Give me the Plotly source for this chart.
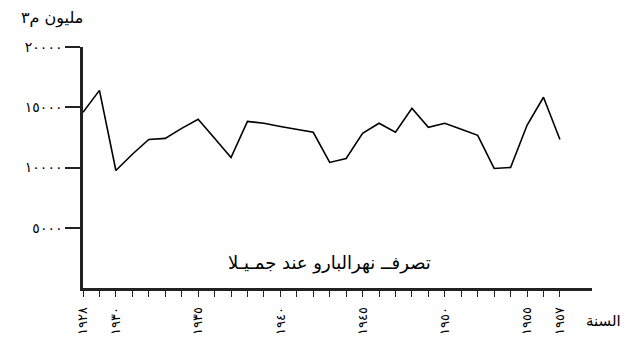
import plotly.graph_objects as go

years = list(range(1928, 1958))
discharge = [14580, 16400, 9750, 11100, 12330, 12420, 13250, 14000, 12420, 10830,
             13830, 13670, 13400, 13170, 12920, 10420, 10750, 12830, 13670, 12920,
             14920, 13330, 13670, 13170, 12670, 9920, 10000, 13500, 15830, 12330]

ar_digits = str.maketrans("0123456789", "٠١٢٣٤٥٦٧٨٩")
labeled_years = [1928, 1930, 1935, 1940, 1945, 1950, 1955, 1957]
x_ticktext = [str(y).translate(ar_digits) if y in labeled_years else "" for y in years]

y_tickvals = [5000, 10000, 15000, 20000]
y_ticktext = [str(v).translate(ar_digits) for v in y_tickvals]

y_title = "مليون م٣"
x_title = "السنة"
caption = "تصرفــ نهرالبارو عند جمـيـلا"

FONT = "DejaVu Sans"

fig = go.Figure()
fig.add_trace(go.Scatter(x=years, y=discharge, mode="lines",
                         line=dict(color="black", width=1.6), showlegend=False,
                         cliponaxis=False))

fig.update_layout(
    width=628, height=342,
    margin=dict(l=75, r=44, t=39, b=62),
    paper_bgcolor="white", plot_bgcolor="white",
    font=dict(family=FONT, color="black", size=12),
    xaxis=dict(range=[1928, 1958.95], tickvals=years, ticktext=x_ticktext,
               tickangle=-90, ticks="outside", ticklen=6, tickwidth=1.2,
               tickcolor="#222", showline=True, linecolor="#222", linewidth=2.5,
               showgrid=False, zeroline=False, tickfont=dict(size=13),
               ticklabelstandoff=5, automargin=False),
    yaxis=dict(range=[0, 20000], tickvals=y_tickvals, ticktext=y_ticktext,
               ticks="outside", ticklen=15, tickwidth=2, tickcolor="#222",
               showline=True, linecolor="#222", linewidth=2.5,
               showgrid=False, zeroline=False, tickfont=dict(size=14),
               automargin=False),
    annotations=[
        dict(text=y_title, xref="paper", yref="paper", x=-0.125, y=1.07,
             xanchor="left", yanchor="bottom", showarrow=False,
             font=dict(size=16, family=FONT)),
        dict(text=x_title, xref="paper", yref="paper", x=0.985, y=-0.09,
             xanchor="left", yanchor="top", showarrow=False,
             font=dict(size=15, family=FONT)),
        dict(text=caption, xref="paper", yref="paper", x=0.485, y=0.105,
             xanchor="center", yanchor="middle", showarrow=False,
             font=dict(size=18, family=FONT)),
    ],
)

fig.write_html("out.html")
